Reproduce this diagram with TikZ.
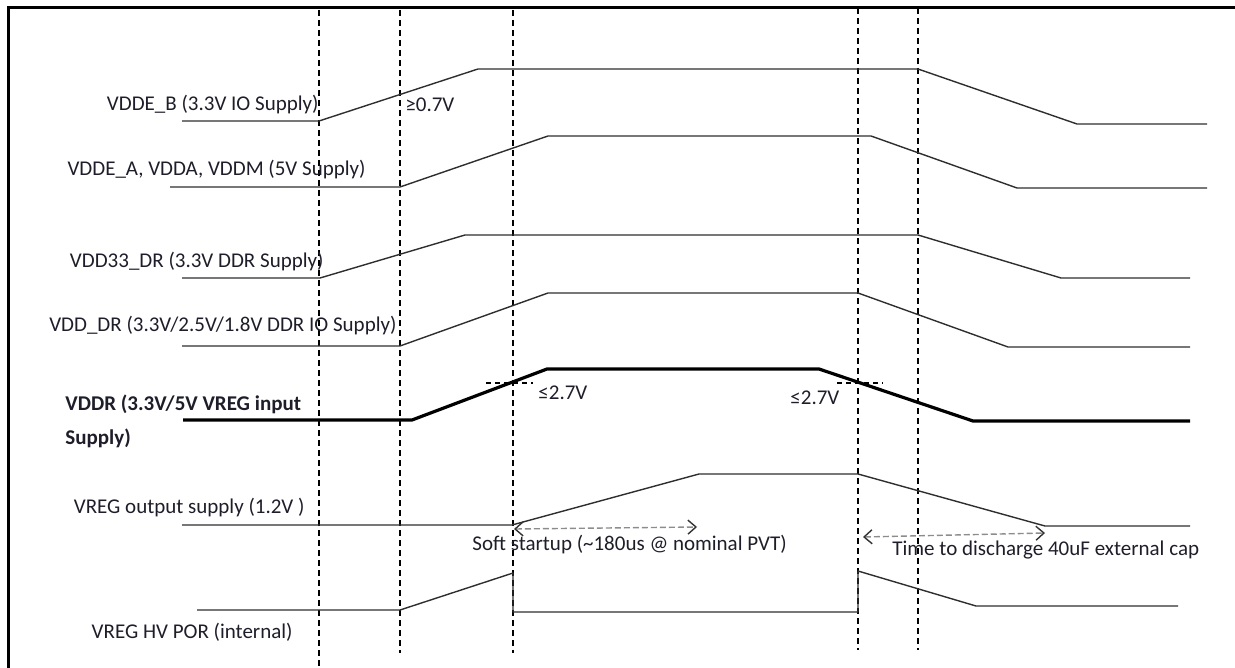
\documentclass[tikz,border=0pt]{standalone}
\usepackage{fontspec}
\setmainfont{Carlito}
\usetikzlibrary{arrows.meta}
\definecolor{txt}{HTML}{1E1E2A}
\begin{document}
\begin{tikzpicture}[x=0.5pt,y=-0.5pt,
  lbl/.style={font=\fontsize{10.5}{12.5}\selectfont, inner sep=0pt, text=txt},
  blbl/.style={lbl, font=\fontsize{10.5}{12.5}\selectfont\bfseries},
  sig/.style={line width=0.7pt, draw=black!82, line join=round},
  vddr/.style={line width=1.6pt, draw=black, line join=round},
  guide/.style={line width=0.7pt, draw=black, dash pattern=on 3pt off 2pt},
  thr/.style={line width=0.7pt, draw=black, dash pattern=on 2.5pt off 2pt},
  span/.style={line width=0.7pt, draw=black!45, dash pattern=on 3pt off 1.5pt,
    {Straight Barb[length=4pt,width=7pt,black!80]}-{Straight Barb[length=4pt,width=7pt,black!80]}},
  frame/.style={line width=1.5pt, draw=black}
]
\useasboundingbox (0,0) rectangle (1235,668);
% frame
\draw[frame] (8,668) -- (8,8) -- (1235,8);
% vertical guides
\coordinate (g1t) at (319,10);  \coordinate (g1b) at (319,668);
\coordinate (g2t) at (400,10);  \coordinate (g2b) at (400,653);
\coordinate (g3t) at (513,10);  \coordinate (g3b) at (513,653);
\coordinate (g4t) at (858,8);   \coordinate (g4b) at (858,650);
\coordinate (g5t) at (918,8);   \coordinate (g5b) at (918,650);
\draw[guide] (g1t) -- (g1b);
\draw[guide] (g2t) -- (g2b);
\draw[guide] (g3t) -- (g3b);
\draw[guide] (g4t) -- (g4b);
\draw[guide] (g5t) -- (g5b);
% waveforms
\draw[sig] (182,121) -- (319,121) -- (478,69) -- (918,69) -- (1077,124) -- (1207,124);
\draw[sig] (170,187) -- (400,187) -- (548,136) -- (871,136) -- (1017,188) -- (1207,188);
\draw[sig] (182,278) -- (320,278) -- (465,235) -- (918,235) -- (1061,278) -- (1190,278);
\draw[sig] (182,346) -- (400,346) -- (548,293) -- (858,293) -- (1008,347) -- (1190,347);
\draw[vddr] (183,420) -- (412,420) -- (547,369) -- (819,369) -- (973,421) -- (1190,421);
\draw[sig] (182,525) -- (512,525) -- (699,474) -- (858,474) -- (1045,526) -- (1190,526);
\draw[sig] (197,610) -- (400,610) -- (513,573) -- (513,612) -- (858,612) -- (858,571) -- (976,606) -- (1178,606);
% thresholds
\draw[thr] (486,383) -- (533,383);
\draw[thr] (837,383) -- (883,383);
% spans
\coordinate (s1a) at (514,529); \coordinate (s1b) at (697,527);
\coordinate (s2a) at (863,537); \coordinate (s2b) at (1045,533);
\draw[span] (s1a) -- (s1b);
\draw[span] (s2a) -- (s2b);
% labels
\node[lbl, anchor=east] (lB) at (319,105) {VDDE\_B (3.3V IO Supply)};
\node[lbl, anchor=west] (l07) at (405,105) {≥0.7V};
\node[lbl, anchor=east] (lA) at (366,170) {VDDE\_A, VDDA, VDDM (5V Supply)};
\node[lbl, anchor=east] (l33) at (324,262) {VDD33\_DR (3.3V DDR Supply)};
\node[lbl, anchor=east] (lDR) at (397,326) {VDD\_DR (3.3V/2.5V/1.8V DDR IO Supply)};
\node[blbl, anchor=west] (lR1) at (65,404) {VDDR (3.3V/5V VREG input};
\node[blbl, anchor=west] (lR2) at (65,438) {Supply)};
\node[lbl, anchor=west] (t1) at (538,393) {≤2.7V};
\node[lbl, anchor=west] (t2) at (790,398) {≤2.7V};
\node[lbl, anchor=east] (lO) at (305,508) {VREG output supply (1.2V )};
\node[lbl, anchor=west] (lS) at (472,545) {Soft startup (\textasciitilde180us @ nominal PVT)};
\node[lbl, anchor=west] (lT) at (892,550) {Time to discharge 40uF external cap};
\node[lbl, anchor=east] (lP) at (293,632) {VREG HV POR (internal)};
\end{tikzpicture}
\end{document}
